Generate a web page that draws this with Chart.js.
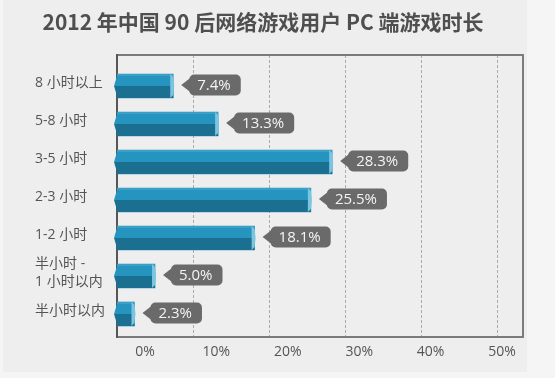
<!DOCTYPE html>
<html><head><meta charset="utf-8">
<script src="https://cdn.jsdelivr.net/npm/chart.js@4.4.1/dist/chart.umd.min.js"></script>
<style>
html,body{margin:0;padding:0;background:#f5f5f5;}
#wrap{position:absolute;left:3px;top:0;width:524px;height:372px;background:#eeeeee;}
canvas{display:block;}
</style></head><body>
<div id="wrap"><canvas id="c" width="524" height="372"></canvas></div>
<script>
const titleText = '2012 年中国 90 后网络游戏用户 PC 端游戏时长';
const categories = ['8 小时以上', '5-8 小时', '3-5 小时', '2-3 小时', '1-2 小时', ['半小时 -', '1 小时以内'], '半小时以内'];
const values = [7.4, 13.3, 28.3, 25.5, 18.1, 5.0, 2.3];
const valueLabels = ['7.4%', '13.3%', '28.3%', '25.5%', '18.1%', '5.0%', '2.3%'];
const gridTicks = [10, 20, 30, 40, 50];
const axisTickLabels = [0, 10, 20, 30, 40, 50];

Chart.defaults.font.family = '"Open Sans","Noto Sans CJK SC",sans-serif';

const framePlugin = {
  id: 'frame',
  beforeDatasetsDraw(chart) {
    const {ctx, chartArea: a} = chart;
    ctx.save();
    ctx.lineWidth = 2;
    ctx.strokeStyle = '#7b7b7b';
    ctx.beginPath();
    ctx.moveTo(a.left, a.top); ctx.lineTo(a.right, a.top);
    ctx.lineTo(a.right, a.bottom); ctx.lineTo(a.left, a.bottom);
    ctx.stroke();
    ctx.strokeStyle = '#565656';
    ctx.beginPath(); ctx.moveTo(a.left, a.top - 1); ctx.lineTo(a.left, a.bottom + 1); ctx.stroke();
    ctx.restore();
  }
};

function roundRect(ctx, x, y, w, h, r) {
  ctx.beginPath();
  ctx.moveTo(x + r, y);
  ctx.lineTo(x + w - r, y); ctx.arcTo(x + w, y, x + w, y + r, r);
  ctx.lineTo(x + w, y + h - r); ctx.arcTo(x + w, y + h, x + w - r, y + h, r);
  ctx.lineTo(x + r, y + h); ctx.arcTo(x, y + h, x, y + h - r, r);
  ctx.lineTo(x, y + r); ctx.arcTo(x, y, x + r, y, r);
  ctx.closePath();
}

const barsPlugin = {
  id: 'bars3d',
  afterDatasetsDraw(chart) {
    const ctx = chart.ctx;
    const meta = chart.getDatasetMeta(0);
    meta.data.forEach((el, i) => {
      const {x, y, base, height} = el.getProps(['x', 'y', 'base', 'height'], true);
      const top = y - height / 2, bot = y + height / 2, left = base, right = x;
      ctx.save();
      ctx.fillStyle = '#1b6f91';
      ctx.fillRect(left, y, right - left, bot - y);
      ctx.fillStyle = 'rgba(255,255,255,0.10)';
      ctx.fillRect(left, top, right - left, 2);
      ctx.fillStyle = '#2595c0';
      ctx.beginPath(); ctx.moveTo(left, top + 2); ctx.lineTo(left - 3, y); ctx.lineTo(left, y); ctx.fill();
      ctx.fillStyle = '#1b6f91';
      ctx.beginPath(); ctx.moveTo(left, y); ctx.lineTo(left - 3, y); ctx.lineTo(left, bot - 2); ctx.fill();
      ctx.fillStyle = '#7cc5e0';
      ctx.beginPath();
      ctx.moveTo(right - 3, top); ctx.lineTo(right, top + 3); ctx.lineTo(right + 1, y);
      ctx.lineTo(right, bot - 3); ctx.lineTo(right - 3, bot); ctx.closePath(); ctx.fill();
      ctx.font = '15px "Open Sans","Noto Sans CJK SC",sans-serif';
      const txt = valueLabels[i];
      const tw = ctx.measureText(txt).width;
      const bx = right + 16, bh = 21, by = y - 11.5, bw = tw + 18;
      ctx.fillStyle = '#6a6a6a';
      roundRect(ctx, bx, by, bw, bh, 5);
      ctx.fill();
      ctx.beginPath();
      ctx.moveTo(right + 8, y - 1); ctx.lineTo(bx + 1, y - 8); ctx.lineTo(bx + 1, y + 6); ctx.closePath();
      ctx.fill();
      ctx.fillStyle = '#f4f4f4';
      ctx.textBaseline = 'middle';
      ctx.textAlign = 'left';
      ctx.fillText(txt, bx + 8, y - 0.5);
      ctx.restore();
    });
  }
};

new Chart(document.getElementById('c'), {
  type: 'bar',
  data: {
    datasets: [{
      data: values.map((v, i) => ({x: v, y: i})),
      backgroundColor: '#2595c0',
      borderWidth: 0,
      barThickness: 24
    }]
  },
  options: {
    indexAxis: 'y',
    responsive: false,
    animation: false,
    layout: {padding: {left: 0, right: 4, top: 0, bottom: 0}},
    plugins: {
      legend: {display: false},
      tooltip: {enabled: false},
      title: {
        display: true, text: titleText, color: '#4f4f4f',
        font: {size: 21, weight: 'bold', family: '"Noto Sans CJK SC",sans-serif'},
        padding: {top: 9.5, bottom: 20.3}
      }
    },
    scales: {
      x: {
        type: 'linear', position: 'top', min: 0, max: 53.4,
        afterBuildTicks: s => { s.ticks = gridTicks.map(v => ({value: v})); },
        afterFit: s => { s.height = 0; },
        ticks: {display: false},
        grid: {color: '#ababab', lineWidth: 1, drawTicks: false},
        border: {display: false, dash: [3, 2]}
      },
      xl: {
        type: 'linear', axis: 'x', position: 'bottom', min: -3.92, max: 52.94,
        afterBuildTicks: s => { s.ticks = axisTickLabels.map(v => ({value: v})); },
        afterFit: s => { s.height = 35; },
        ticks: {callback: v => v + '%', color: '#555', font: {size: 14}, padding: 7, maxRotation: 0, autoSkip: false},
        grid: {display: false, drawTicks: false},
        border: {display: false}
      },
      y: {
        type: 'linear', reverse: true, offset: false, min: -0.816, max: 6.605, weight: 0,
        afterBuildTicks: s => { s.ticks = categories.map((c, i) => ({value: i})); },
        afterFit: s => { s.width = 82; },
        ticks: {
          crossAlign: 'far', color: '#555', labelOffset: -3,
          font: {size: 14, lineHeight: 1.3},
          callback: v => categories[v]
        },
        grid: {display: false, drawTicks: false, offset: false},
        border: {display: false}
      },
      spacer: {
        type: 'linear', axis: 'y', position: 'left', weight: 5, min: 0, max: 1,
        afterFit: s => { s.width = 32; },
        ticks: {display: false},
        grid: {display: false, drawTicks: false},
        border: {display: false}
      }
    }
  },
  plugins: [framePlugin, barsPlugin]
});
</script>
</body></html>
